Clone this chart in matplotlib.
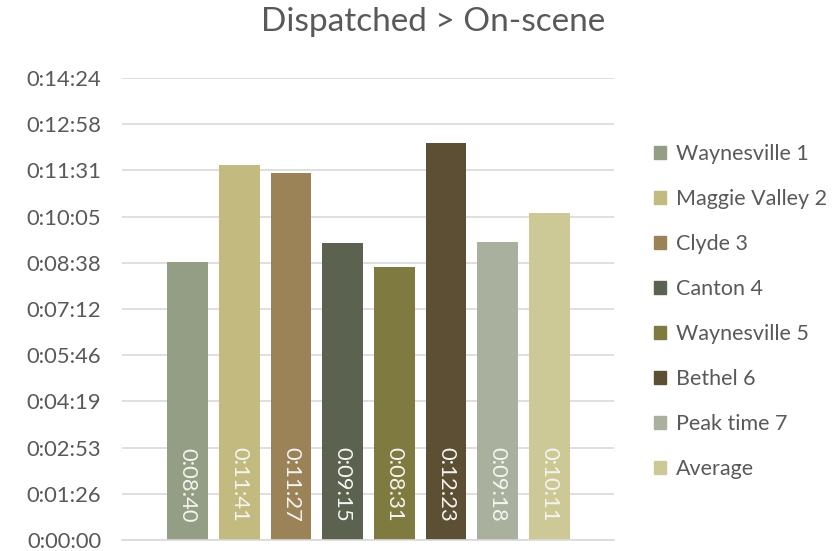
import matplotlib.pyplot as plt
import matplotlib.patches as mpatches
from matplotlib.ticker import FixedLocator, FuncFormatter

# data (seconds)
stations = ['Waynesville 1', 'Maggie Valley 2', 'Clyde 3', 'Canton 4',
            'Waynesville 5', 'Bethel 6', 'Peak time 7', 'Average']
times = [520, 701, 687, 555, 511, 743, 558, 611]   # 0:08:40 ... 0:10:11
bar_colors = ['#949E85', '#C2BA7E', '#9C8257', '#5B6350',
              '#7F7A40', '#5D4F33', '#A9B19E', '#CDC996']
yticks = [i * 86.4 for i in range(11)]   # excel steps of 0.001 day

plt.rcParams['font.family'] = ['Lato', 'DejaVu Sans']
txt = '#595959'
fs = 15.8

def hms(s, pos=None):
    s = int(round(s))
    return '%d:%02d:%02d' % (s // 3600, (s % 3600) // 60, s % 60)

fig = plt.figure(figsize=(8.36, 5.51), dpi=100)
ax = fig.add_axes([122 / 836, 11 / 551, 492 / 836, 462 / 551])

x = list(range(len(stations)))
bars = ax.bar(x, times, width=0.79, color=bar_colors, zorder=2)

for xi, t in zip(x, times):
    ax.annotate(hms(t), xy=(xi, 0), xytext=(0, 18), textcoords='offset pixels',
                rotation=-90, ha='center', va='bottom', color='#F4F4F0',
                fontsize=fs, zorder=3)

ax.set_xlim(-1.27, 8.25)
ax.set_ylim(0, 864)
ax.yaxis.set_major_locator(FixedLocator(yticks))
ax.yaxis.set_major_formatter(FuncFormatter(hms))
ax.grid(axis='y', color='#D9D9D9', linewidth=1.2, zorder=0)
ax.set_xticks([])
for sp in ['top', 'right', 'left']:
    ax.spines[sp].set_visible(False)
ax.spines['bottom'].set_color('#D9D9D9')
ax.spines['bottom'].set_linewidth(1.2)
ax.tick_params(axis='y', length=0, pad=15, labelsize=fs, labelcolor=txt)

fig.text(433 / 836, 1 - 22 / 551, 'Dispatched > On-scene', ha='center', va='center',
         fontsize=24, color=txt)

handles = [mpatches.Patch(color=c) for c in bar_colors]
fig.legend(handles, stations, loc='upper left', bbox_to_anchor=(654 / 836, 1 - 144 / 551),
           frameon=False, fontsize=15.5, labelcolor=txt, handlelength=0.55,
           handleheight=0.55, handletextpad=0.45, labelspacing=1.16, borderpad=0,
           borderaxespad=0)

fig.savefig('out.png', dpi=100)
